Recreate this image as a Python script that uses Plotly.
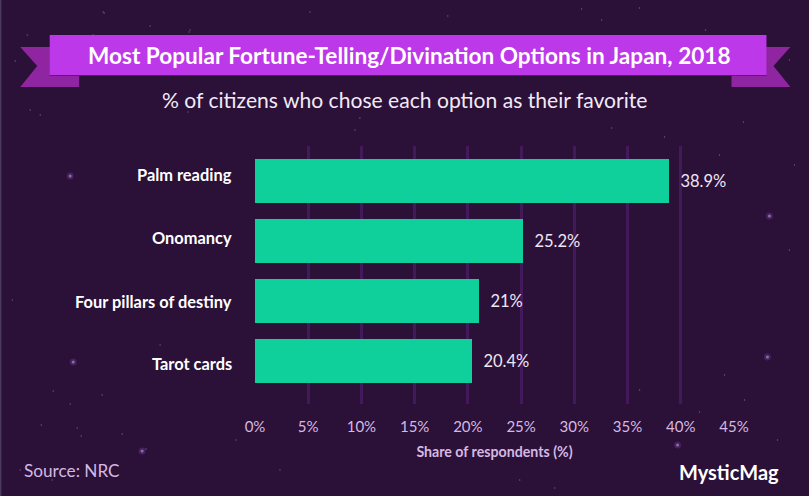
import plotly.graph_objects as go

categories = ["Palm reading", "Onomancy", "Four pillars of destiny", "Tarot cards"]
values = [38.9, 25.2, 21, 20.4]
value_labels = ["\u00a0\u00a038.9%", "\u00a0\u00a025.2%", "\u00a0\u00a021%", "\u00a0\u00a020.4%"]
tick_values = [0, 5, 10, 15, 20, 25, 30, 35, 40, 45]
tick_labels = [f"{v}%" for v in tick_values]
category_label_y = [174, 237, 301, 363]

# decorative background stars (pixels)
big_star_x = [70, 73, 142, 678, 768, 770]
big_star_y = [176, 362, 451, 445, 357, 216]
speck_x = [53, 102, 70, 77, 41, 122, 81, 146, 103, 93, 63, 15, 27, 190, 150, 189, 104, 310, 448, 582, 520, 640,
           30, 360, 744, 790, 612, 12, 236, 706, 790, 280, 52, 160, 745, 700, 665, 720, 795, 640, 745, 725, 778, 602,
           355, 188, 40, 20, 300, 555]
speck_y = [391, 395, 404, 428, 425, 434, 436, 449, 12, 35, 47, 61, 35, 30, 26, 32, 13, 12, 16, 9, 480, 8,
           110, 118, 122, 60, 128, 300, 440, 30, 250, 470, 480, 345, 70, 412, 137, 155, 165, 390, 400, 375, 440, 20,
           130, 112, 115, 470, 432, 488]

W, H = 809, 496
L, R, T, B = 255, 734.5, 146, 404
BG = "#2b1038"


def px(x):
    return (x - L) / (R - L)


def py(y):
    return (B - y) / (B - T)


def poly(points, color):
    path = "M " + " L ".join(f"{px(x):.5f},{py(y):.5f}" for x, y in points) + " Z"
    return dict(type="path", xref="paper", yref="paper", path=path, fillcolor=color,
                line=dict(width=0), layer="below")


def dot(x, y, r, color):
    return dict(type="circle", xref="paper", yref="paper", x0=px(x - r), x1=px(x + r),
                y0=py(y + r), y1=py(y - r), fillcolor=color, line=dict(width=0), layer="below")


def rect(x0, x1, y0, y1, color):
    return dict(type="rect", xref="paper", yref="paper", x0=px(x0), x1=px(x1), y0=py(y0), y1=py(y1),
                fillcolor=color, line=dict(width=0), layer="below")


fig = go.Figure()
fig.add_trace(go.Bar(
    y=categories, x=values, orientation="h", width=0.733,
    marker=dict(color="#0fd09a", line=dict(width=0)),
    text=value_labels, textposition="outside", cliponaxis=False,
    textfont=dict(family="Lato", size=16.5, color="#efe6f4"), showlegend=False,
))

shapes = [dot(x, y, 3.5, "#47205f") for x, y in zip(big_star_x, big_star_y)]
shapes += [dot(x, y, 1.5, "#8a6f9c") for x, y in zip(big_star_x, big_star_y)]
shapes += [dot(x, y, 0.7, "#6d5c7c") for x, y in zip(speck_x, speck_y)]
shapes += [
    rect(0, 1, 0, H, "#5b4a68"),
    poly([(20, 47), (79, 47), (79, 87), (20, 87), (37, 66)], "#8f25a0"),
    poly([(791, 47), (732, 47), (732, 87), (791, 87), (774, 66)], "#8f25a0"),
    rect(49.5, 767, 75, 76, "#5a1a78"),
    rect(49.5, 767, 35, 75, "#bd38e8"),
]

annotations = [
    dict(text=f"<b>{c}</b>", xref="paper", yref="paper", x=px(234), y=py(y), xanchor="right", yanchor="middle",
         showarrow=False, font=dict(family="Lato", size=16.4, color="#ffffff"))
    for c, y in zip(categories, category_label_y)
]
annotations += [
    dict(text="<b>Most Popular Fortune-Telling/Divination Options in Japan, 2018</b>",
         xref="paper", yref="paper", x=px(410), y=py(55), xanchor="center", yanchor="middle",
         showarrow=False, font=dict(family="Lato", size=22.6, color="#ffffff")),
    dict(text="% of citizens who chose each option as their favorite",
         xref="paper", yref="paper", x=px(405), y=py(100), xanchor="center", yanchor="middle",
         showarrow=False, font=dict(family="Lato", size=21.1, color="#f2eaf6")),
    dict(text="Source: NRC", xref="paper", yref="paper", x=px(22), y=py(470),
         xanchor="left", yanchor="middle", showarrow=False,
         font=dict(family="Lato", size=17.2, color="#d5b9e2")),
    dict(text="<b>MysticMag</b>", xref="paper", yref="paper", x=px(677), y=py(472),
         xanchor="left", yanchor="middle", showarrow=False,
         font=dict(family="Lato", size=20, color="#ffffff")),
]

fig.update_layout(
    width=W, height=H, autosize=False,
    margin=dict(l=L, r=W - R, t=T, b=H - B, pad=0),
    paper_bgcolor=BG, plot_bgcolor="rgba(0,0,0,0)",
    bargap=0, shapes=shapes, annotations=annotations,
    font=dict(family="Lato", color="#ffffff"),
    xaxis=dict(
        range=[0, 45], tickvals=tick_values, ticktext=tick_labels,
        showgrid=True, gridcolor="#43195c", gridwidth=2.5, zeroline=False, showline=False,
        ticks="outside", ticklen=9, tickcolor="rgba(0,0,0,0)",
        tickfont=dict(family="Lato", size=15, color="#d5b9e2"),
        title=dict(text="<b>Share of respondents (%)</b>", standoff=13,
                   font=dict(family="Lato", size=14.2, color="#d5b9e2")),
    ),
    yaxis=dict(
        range=[3.717, -0.583], showgrid=False, zeroline=False, showline=False,
        ticks="", showticklabels=False,
    ),
)
fig.write_html("out.html", post_script="document.body.style.margin='0';",
               config={"displayModeBar": False})
